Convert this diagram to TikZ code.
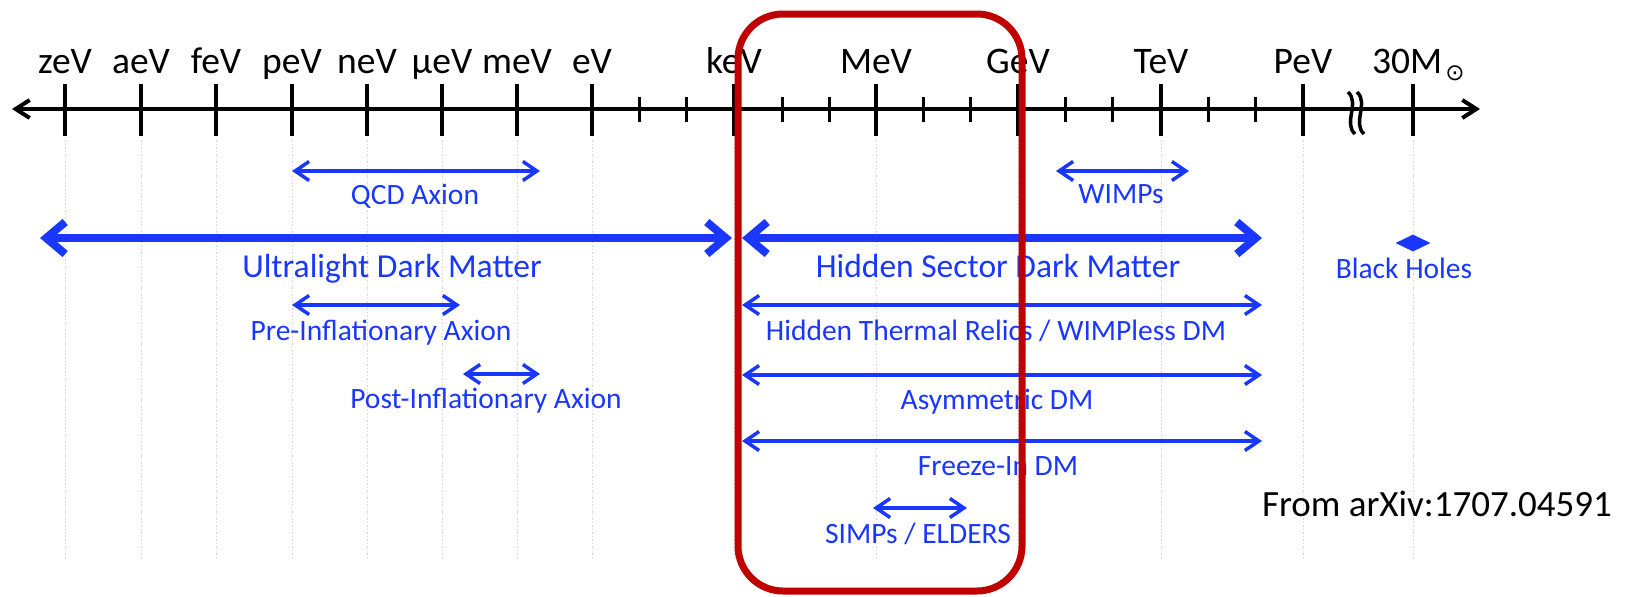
\documentclass[tikz,border=0pt]{standalone}
\usepackage{fontspec}
\setmainfont{Carlito}
\newfontfamily\dejavu{DejaVu Sans}
\usetikzlibrary{arrows.meta,shapes.geometric}
\definecolor{bl}{RGB}{25,55,255}
\definecolor{rd}{RGB}{192,0,0}
\begin{document}
\begin{tikzpicture}[x=1pt,y=-1pt,
  axlab/.style={inner sep=0pt, anchor=base, font=\fontsize{37.5}{40}\selectfont},
  biglab/.style={inner sep=0pt, anchor=base, text=bl, font=\fontsize{33.5}{38}\selectfont},
  smalllab/.style={inner sep=0pt, anchor=base, text=bl, font=\fontsize{29.5}{34}\selectfont},
  srclab/.style={inner sep=0pt, anchor=base, font=\fontsize{37}{40}\selectfont},
  thinarr/.style={draw=bl, line width=3.5pt, {Straight Barb[length=14pt,width=19pt]}-{Straight Barb[length=14pt,width=19pt]}},
  thickarr/.style={draw=bl, line width=8pt, {Straight Barb[length=19pt,width=32pt]}-{Straight Barb[length=19pt,width=32pt]}},
  gridln/.style={draw=black!16, line width=0.8pt, dash pattern=on 1.5pt off 2pt},
  axisln/.style={line width=4pt, {Straight Barb[length=14pt,width=18pt]}-{Straight Barb[length=14pt,width=18pt]}},
  majortick/.style={line width=3.5pt},
  minortick/.style={line width=3pt},
  breakln/.style={line width=3.5pt},
  redbox/.style={draw=rd, line width=7pt, rounded corners=45pt},
  bhmark/.style={shape=diamond, fill=bl, inner sep=0pt, minimum width=35pt, minimum height=17pt}
]
\useasboundingbox (0,0) rectangle (1628,597);

% grid lines
\foreach \x in {65,141,216,292,367,442,517,592,734,876,1018,1161,1303,1413}
  \draw[gridln] (\x,140) -- (\x,560);

% axis
\coordinate (aL) at (12,109);
\coordinate (aR) at (1480,109);
\draw[axisln] (aL) -- (aR);
\foreach \x in {65,141,216,292,367,442,517,592,734,876,1018,1161,1303,1413}
  \draw[majortick] (\x,84) -- (\x,136);
\foreach \x in {639,686,782,829,923,970,1065,1112,1208,1255}
  \draw[minortick] (\x,97) -- (\x,122);
\draw[breakln] (1348,92) .. controls (1360,103) and (1343,123) .. (1355,134);
\draw[breakln] (1357,92) .. controls (1369,103) and (1352,123) .. (1364,134);

% axis labels
\foreach \x/\n/\t in {65/zev/zeV,141/aev/aeV,216/fev/feV,292/pev/peV,367/nev/neV,442/uev/μeV,517/mev/meV,592/ev/eV,734/kev/keV,876/Mev/MeV,1018/gev/GeV,1161/tev/TeV,1303/Pev/PeV}
  \node[axlab] (\n) at (\x,73) {\t};
\node[axlab, anchor=base west] (msun) at (1372,73) {30M\hspace{3pt}\raisebox{-7pt}{\dejavu\fontsize{23}{23}\selectfont ⊙}};

% QCD axion
\coordinate (qa) at (292,171); \coordinate (qb) at (540,171);
\draw[thinarr] (qa) -- (qb);
\node[smalllab] (qcd) at (415,204) {QCD Axion};

% WIMPs
\coordinate (wa) at (1056,171); \coordinate (wb) at (1189,171);
\draw[thinarr] (wa) -- (wb);
\node[smalllab] (wimp) at (1121,203) {WIMPs};

% Ultralight DM
\coordinate (ua) at (40,238); \coordinate (ub) at (732,238);
\draw[thickarr] (ua) -- (ub);
\node[biglab] (uldm) at (392,277) {Ultralight Dark Matter};

% Hidden Sector DM
\coordinate (ha) at (742,238); \coordinate (hb) at (1262,238);
\draw[thickarr] (ha) -- (hb);
\node[biglab] (hsdm) at (998,277) {Hidden Sector Dark Matter};

% Black holes
\node[bhmark] (bh) at (1413,243) {};
\node[smalllab] (bhl) at (1404,278) {Black Holes};

% Pre-inflationary
\coordinate (pa) at (292,305); \coordinate (pb) at (460,305);
\draw[thinarr] (pa) -- (pb);
\node[smalllab] (pre) at (381,340) {Pre-Inflationary Axion};

% Post-inflationary
\coordinate (sa) at (463,374); \coordinate (sb) at (540,374);
\draw[thinarr] (sa) -- (sb);
\node[smalllab] (post) at (486,408) {Post-Inflationary Axion};

% Hidden thermal relics
\coordinate (ta) at (742,305); \coordinate (tb) at (1262,305);
\draw[thinarr] (ta) -- (tb);
\node[smalllab] (htr) at (996,340) {Hidden Thermal Relics / WIMPless DM};

% Asymmetric
\coordinate (ya) at (742,375); \coordinate (yb) at (1262,375);
\draw[thinarr] (ya) -- (yb);
\node[smalllab] (asym) at (997,409) {Asymmetric DM};

% Freeze-in
\coordinate (fa) at (742,441); \coordinate (fb) at (1262,441);
\draw[thinarr] (fa) -- (fb);
\node[smalllab] (frz) at (998,475) {Freeze-In DM};

% SIMPs
\coordinate (ea) at (873,508); \coordinate (eb) at (967,508);
\draw[thinarr] (ea) -- (eb);
\node[smalllab] (simp) at (918,543) {SIMPs / ELDERS};

% source
\node[srclab] (src) at (1437,516) {From arXiv:1707.04591};

% red box
\draw[redbox] (738,14) rectangle (1022,591);
\end{tikzpicture}
\end{document}
